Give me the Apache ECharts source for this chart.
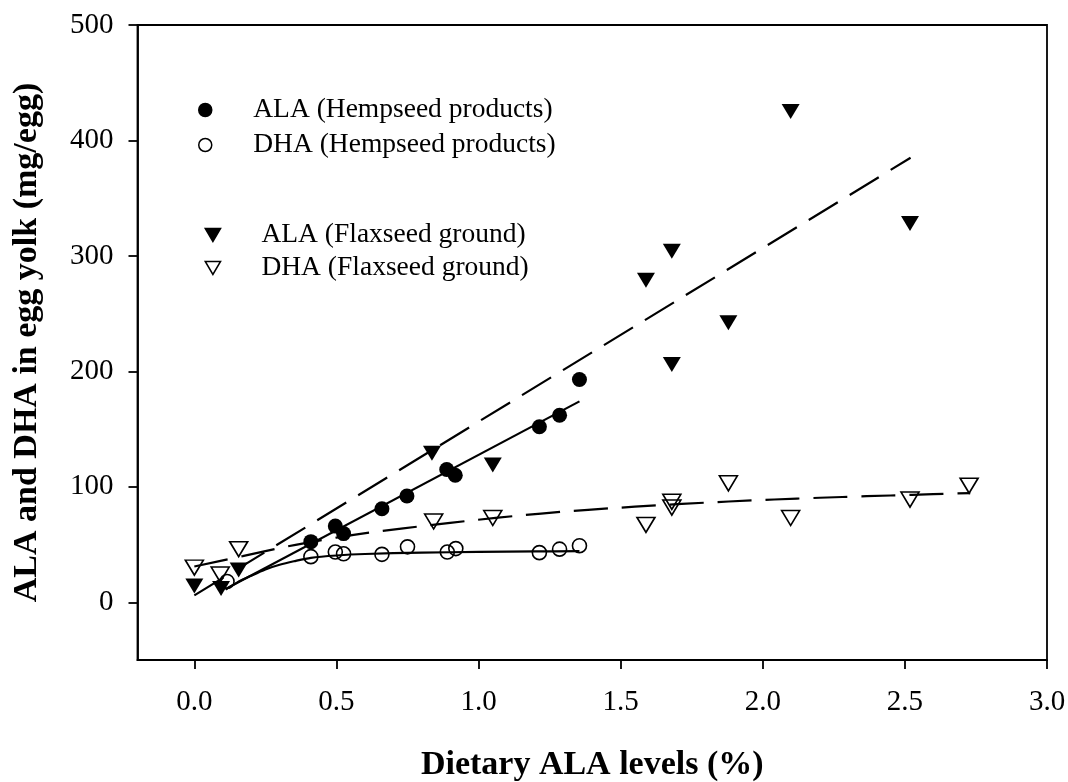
<!DOCTYPE html>
<html>
<head>
<meta charset="utf-8">
<title>ALA and DHA in egg yolk</title>
<script src="https://cdn.jsdelivr.net/npm/echarts@6/dist/echarts.min.js"></script>
<style>
  html, body { margin: 0; padding: 0; background: #ffffff; }
  #chart { width: 1068px; height: 782px; }
</style>
</head>
<body>
<div id="chart"></div>
<script>
// Tick positions for both axes
const xTicks = [0, 0.5, 1.0, 1.5, 2.0, 2.5, 3.0];
const yTicks = [0, 100, 200, 300, 400, 500];

// Measured points: [dietary ALA %, mg per egg]
const alaHemp = [
  [0.41, 52.5], [0.496, 66], [0.525, 59.5], [0.66, 81],
  [0.748, 92], [0.888, 115], [0.918, 110], [1.214, 152], [1.285, 162], [1.355, 193]
];
const dhaHemp = [
  [0.115, 18], [0.41, 39.5], [0.496, 43.5], [0.525, 42], [0.66, 41.5],
  [0.75, 48], [0.89, 43.5], [0.92, 46.5], [1.214, 43], [1.285, 46], [1.355, 49]
];
const alaFlax = [
  [0.0, 14], [0.094, 12], [0.156, 28], [0.836, 129], [1.05, 119],
  [1.589, 279], [1.68, 304], [1.68, 206], [1.879, 242], [2.098, 425], [2.518, 328]
];
const dhaFlax = [
  [0.0, 30], [0.091, 24], [0.156, 46], [0.842, 70], [1.05, 73], [1.589, 67],
  [1.68, 87], [1.68, 82], [1.879, 103], [2.098, 73], [2.518, 89], [2.726, 101]
];

// Fitted curves as drawn on the plot
const alaHempFit = [[0.11, 11.5], [1.355, 174]];
const dhaHempFit = [
  [0.11, 11], [0.15, 17], [0.2, 23], [0.25, 28.5], [0.3, 32.5], [0.35, 35.5],
  [0.41, 38.5], [0.5, 40.5], [0.6, 41.8], [0.8, 43], [1.0, 43.6], [1.2, 44], [1.355, 44.3]
];
const alaFlaxFit = [[0.0, 6], [2.52, 385]];
const dhaFlaxFit = [
  [0.0, 31], [0.17, 40], [0.33, 48.5], [0.5, 56], [0.65, 61.5], [0.82, 66.5],
  [0.98, 71], [1.14, 75], [1.3, 78.5], [1.47, 81.5], [1.63, 84], [1.8, 86.3],
  [1.96, 88.2], [2.12, 89.8], [2.28, 91.2], [2.45, 92.5], [2.6, 93.6], [2.73, 94.6]
];

const SERIF = '"Liberation Serif", "Times New Roman", serif';
const downTriangle = 'path://M0,0L20,0L10,17Z';
const hollow = 'rgba(255,255,255,0)';

const chart = echarts.init(document.getElementById('chart'), null, { renderer: 'canvas' });

function fitLine(data, dashed) {
  return {
    type: 'line',
    data: data,
    showSymbol: false,
    symbol: 'none',
    smooth: data.length > 2 ? 0.3 : false,
    silent: true,
    z: 1,
    lineStyle: { color: '#000', width: 2.2, type: dashed ? [34, 14] : 'solid' }
  };
}

const legendText = { fontFamily: SERIF, fontSize: 27.5, color: '#000', lineHeight: 30 };

const option = {
  animation: false,
  backgroundColor: '#ffffff',
  grid: {
    left: 137.5, right: 21, top: 25, bottom: 122,
    outerBoundsMode: 'none', containLabel: false,
    show: true, borderColor: '#000', borderWidth: 1.8, backgroundColor: 'transparent'
  },
  legend: [
    {
      data: ['ALA (Hempseed products)', 'DHA (Hempseed products)'],
      orient: 'vertical', left: 198, top: 95, padding: 0,
      itemWidth: 86, itemHeight: 13, itemGap: 5,
      selectedMode: false,
      itemStyle: { borderWidth: 1.5 },
      textStyle: legendText
    },
    {
      data: ['ALA (Flaxseed ground)', 'DHA (Flaxseed ground)'],
      orient: 'vertical', left: 204.5, top: 220, padding: 0,
      itemWidth: 87, itemHeight: 13, itemGap: 3,
      selectedMode: false,
      itemStyle: { borderWidth: 1.5 },
      textStyle: legendText
    }
  ],
  xAxis: {
    type: 'value', min: -0.2, max: 3.0,
    name: 'Dietary ALA levels (%)', nameLocation: 'middle', nameGap: 88,
    nameTextStyle: { fontFamily: SERIF, fontSize: 34, fontWeight: 'bold', color: '#000' },
    axisLine: { show: true, onZero: false, lineStyle: { color: '#000', width: 1.8 } },
    axisTick: { show: true, length: 9, customValues: xTicks, lineStyle: { color: '#000', width: 1.8 } },
    axisLabel: {
      customValues: xTicks, margin: 28,
      fontFamily: SERIF, fontSize: 29, color: '#000',
      formatter: v => v.toFixed(1)
    },
    splitLine: { show: false }
  },
  yAxis: {
    type: 'value', min: -50, max: 500,
    name: 'ALA and DHA in egg yolk (mg/egg)', nameLocation: 'middle', nameGap: 93,
    nameRotate: 90,
    nameTextStyle: { fontFamily: SERIF, fontSize: 34, fontWeight: 'bold', color: '#000' },
    axisLine: { show: true, onZero: false, lineStyle: { color: '#000', width: 1.8 } },
    axisTick: { show: true, length: 9, customValues: yTicks, lineStyle: { color: '#000', width: 1.8 } },
    axisLabel: {
      customValues: yTicks, margin: 24,
      fontFamily: SERIF, fontSize: 29, color: '#000'
    },
    splitLine: { show: false }
  },
  series: [
    fitLine(alaHempFit, false),
    fitLine(dhaHempFit, false),
    fitLine(alaFlaxFit, true),
    fitLine(dhaFlaxFit, true),
    {
      name: 'ALA (Hempseed products)', type: 'scatter', data: alaHemp,
      symbol: 'circle', symbolSize: 15, z: 3,
      itemStyle: { color: '#000', borderColor: '#000', borderWidth: 0, opacity: 1 }
    },
    {
      name: 'DHA (Hempseed products)', type: 'scatter', data: dhaHemp,
      symbol: 'circle', symbolSize: 14, z: 4,
      itemStyle: { color: hollow, borderColor: '#000', borderWidth: 1.6, opacity: 1 }
    },
    {
      name: 'ALA (Flaxseed ground)', type: 'scatter', data: alaFlax,
      symbol: downTriangle, symbolSize: [18, 15], z: 3,
      itemStyle: { color: '#000', borderColor: '#000', borderWidth: 0, opacity: 1 }
    },
    {
      name: 'DHA (Flaxseed ground)', type: 'scatter', data: dhaFlax,
      symbol: downTriangle, symbolSize: [18, 15], z: 4,
      itemStyle: { color: hollow, borderColor: '#000', borderWidth: 1.6, opacity: 1 }
    }
  ]
};

chart.setOption(option);
</script>
</body>
</html>
